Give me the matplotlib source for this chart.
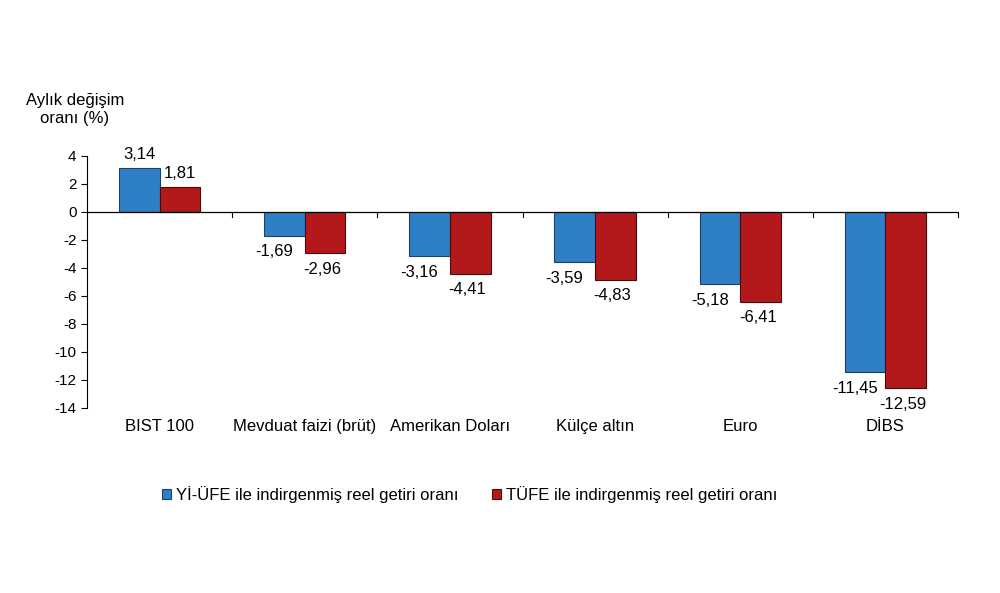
import matplotlib.pyplot as plt
import numpy as np

plt.rcParams['font.family'] = ['Liberation Sans', 'DejaVu Sans']

categories = ['BIST 100', 'Mevduat faizi (brüt)', 'Amerikan Doları', 'Külçe altın', 'Euro', 'DİBS']
yi_ufe = [3.14, -1.69, -3.16, -3.59, -5.18, -11.45]
tufe = [1.81, -2.96, -4.41, -4.83, -6.41, -12.59]
series_names = ['Yİ-ÜFE ile indirgenmiş reel getiri oranı', 'TÜFE ile indirgenmiş reel getiri oranı']
yticks = list(range(-14, 5, 2))

blue = '#2f7fc6'
red = '#b3191b'

fig = plt.figure(figsize=(10, 5.93), dpi=100)
ax = fig.add_axes([0.087, 0.312, 0.871, 0.425])

x = np.arange(len(categories))
w = 0.28
b1 = ax.bar(x - w / 2, yi_ufe, w, color=blue, edgecolor='#1e3f66', linewidth=0.8, label=series_names[0])
b2 = ax.bar(x + w / 2, tufe, w, color=red, edgecolor='#4a0a0a', linewidth=0.8, label=series_names[1])

def fmt(v):
    return f'{v:.2f}'.replace('.', ',')

for bars, vals, shift in ((b1, yi_ufe, -0.07), (b2, tufe, -0.02)):
    for b, v in zip(bars, vals):
        cx = b.get_x() + b.get_width() / 2
        if v >= 0:
            ax.text(cx, v + 0.4, fmt(v), ha='center', va='bottom', fontsize=12)
        else:
            ax.text(cx + shift, v - 0.6, fmt(v), ha='center', va='top', fontsize=12)

ax.set_xlim(-0.5, len(categories) - 0.5)
ax.set_ylim(-14, 4)
ax.set_yticks(yticks)
ax.set_yticklabels([str(t) for t in yticks], fontsize=11)

for s in ['top', 'right', 'bottom']:
    ax.spines[s].set_visible(False)
ax.spines['left'].set_linewidth(0.8)
ax.axhline(0, color='black', linewidth=0.9)

# category ticks on the zero line
ax.set_xticks([])
for b in np.arange(0.5, len(categories), 1.0):
    ax.plot([b, b], [0, -0.35], color='black', linewidth=0.8, clip_on=False)
for i, c in enumerate(categories):
    ax.text(i, -14.8, c, ha='center', va='top', fontsize=12)
ax.tick_params(axis='y', length=4, width=0.8)

fig.text(0.075, 0.815, 'Aylık değişim\noranı (%)', ha='center', va='center', fontsize=12, linespacing=1.25)

fig.legend(loc='center', bbox_to_anchor=(0.47, 0.166), ncol=2, frameon=False, fontsize=12,
           handlelength=0.55, handleheight=0.55, handletextpad=0.3, columnspacing=2.0)

fig.savefig('out.png', dpi=100, facecolor='white')
